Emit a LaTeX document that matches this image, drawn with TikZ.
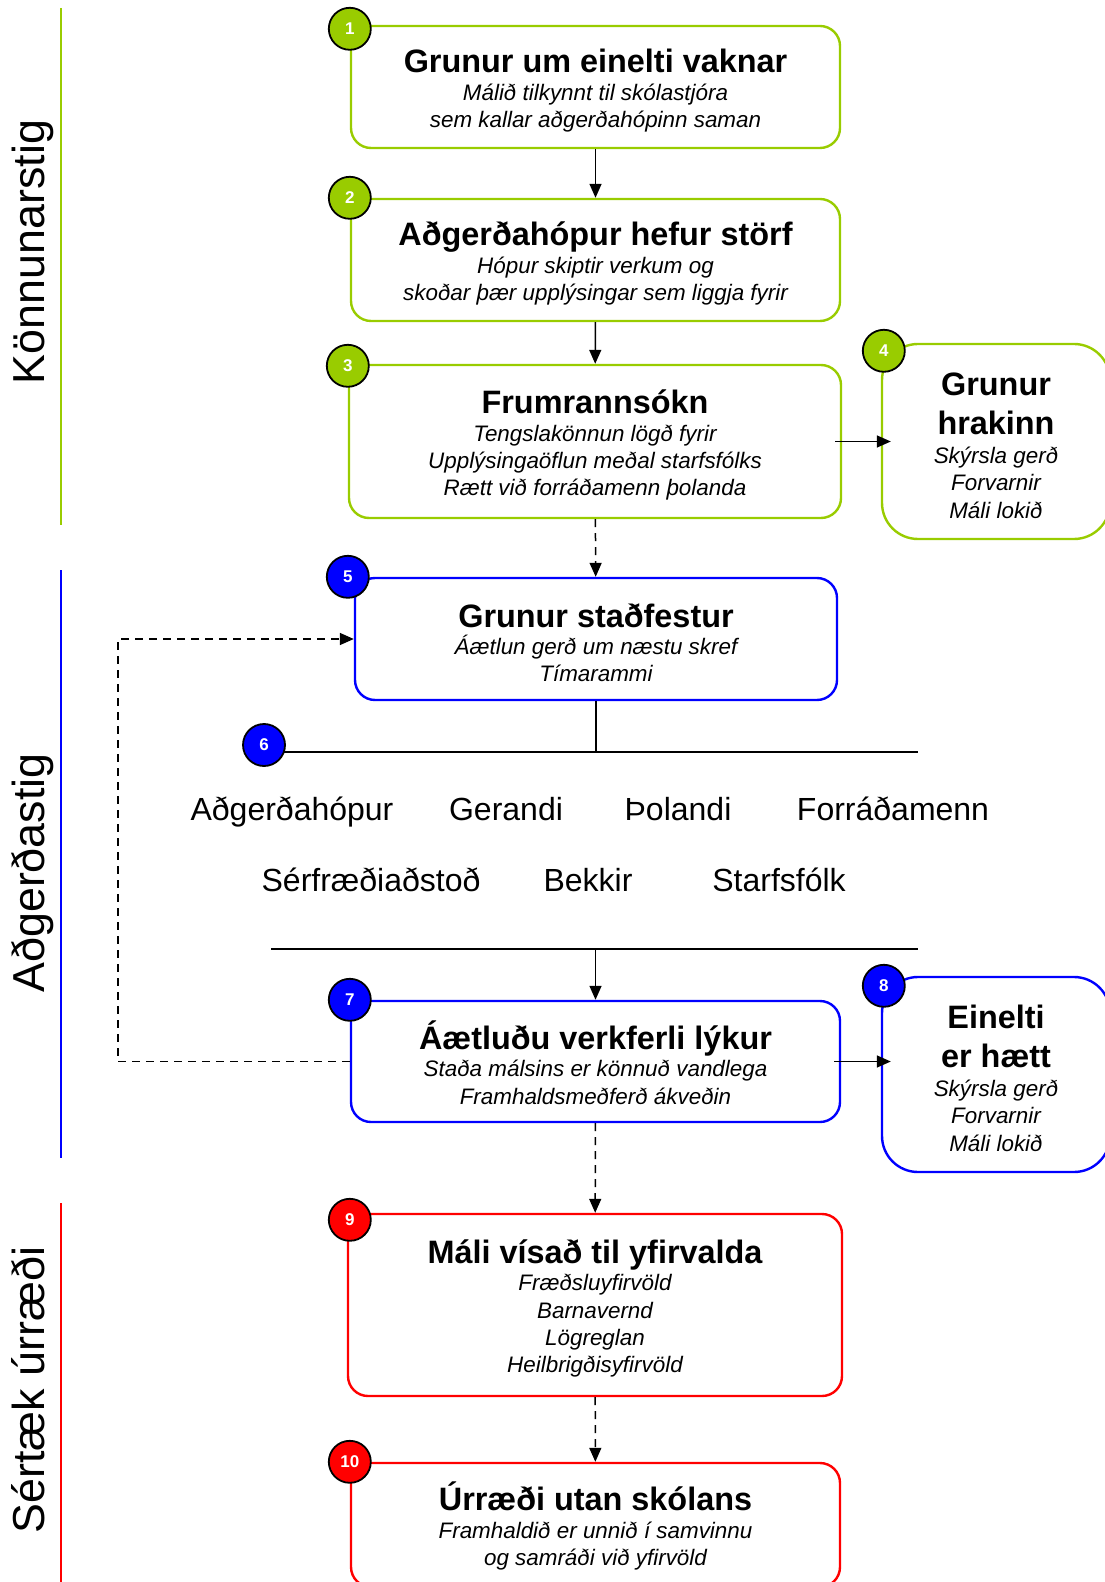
\documentclass[tikz,border=0pt]{standalone}
\usepackage{fontspec}
\setmainfont{Liberation Sans}
\usetikzlibrary{arrows.meta}
\definecolor{kgreen}{HTML}{99CC00}
\definecolor{kblue}{HTML}{0000FF}
\definecolor{kred}{HTML}{FF0000}
\newcommand\bodyfont{\fontsize{11.2}{13.6}\selectfont\itshape}
\newcommand\badgefont{\fontsize{8.5}{10}\selectfont\bfseries}
\newcommand\partyfont{\fontsize{16}{19}\selectfont}
\newcommand\phasefont{\fontsize{22.4}{26}\selectfont}
\newcommand\steptitle[1]{{\fontsize{16.2}{19}\selectfont\upshape\bfseries\rule{0pt}{15.5pt}#1}}
\begin{document}
\begin{tikzpicture}[x=0.5pt,y=-0.5pt,
  stepbox/.style={draw=#1,rounded corners=10pt,line width=1.2pt,align=center,inner sep=0pt,font=\bodyfont},
  endbox/.style={stepbox=#1,rounded corners=18pt},
  badge/.style={circle,draw=black,fill=#1,line width=0.9pt,minimum size=21pt,inner sep=0pt,text=white,font=\badgefont},
  flow/.style={line width=0.75pt,-{Triangle[length=7pt,width=6pt]}},
  dflow/.style={flow,dash pattern=on 4pt off 3pt},
  hub/.style={line width=1pt},
  party/.style={anchor=base,font=\partyfont},
  phase/.style={rotate=90,anchor=base,font=\phasefont},
  phaseline/.style={line width=1.2pt,draw=#1}]
  \useasboundingbox (0,0) rectangle (1104,1582);

  % phases on the left
  \node[phase] (p1) at (44,252) {Könnunarstig};
  \node[phase] (p2) at (44,873) {Aðgerðastig};
  \node[phase] (p3) at (44,1390) {Sértæk úrræði};
  \draw[phaseline=kgreen] (61,8) -- (61,525);
  \draw[phaseline=kblue] (61,570) -- (61,1158);
  \draw[phaseline=kred] (61,1203) -- (61,1590);

  % steps
  \node[stepbox=kgreen,minimum width=244.5pt,minimum height=61pt] (s1) at (595.5,87)
    {\steptitle{Grunur um einelti vaknar}\\ Málið tilkynnt til skólastjóra\\ sem kallar aðgerðahópinn saman};
  \node[stepbox=kgreen,minimum width=244.5pt,minimum height=61pt] (s2) at (595.5,260)
    {\steptitle{Aðgerðahópur hefur störf}\\ Hópur skiptir verkum og\\ skoðar þær upplýsingar sem liggja fyrir};
  \node[stepbox=kgreen,minimum width=246pt,minimum height=76.5pt] (s3) at (595,441.5)
    {\steptitle{Frumrannsókn}\\ Tengslakönnun lögð fyrir\\ Upplýsingaöflun meðal starfsfólks\\ Rætt við forráðamenn þolanda};
  \node[endbox=kgreen,minimum width=114pt,minimum height=97.5pt] (s4) at (996,441.5)
    {\steptitle{Grunur}\\[2.7pt] \steptitle{hrakinn}\\[1pt] Skýrsla gerð\\ Forvarnir\\ Máli lokið};
  \node[stepbox=kblue,minimum width=241pt,minimum height=61pt] (s5) at (596,639)
    {\steptitle{Grunur staðfestur}\\ Áætlun gerð um næstu skref\\ Tímarammi};
  \node[stepbox=kblue,minimum width=244.5pt,minimum height=60.5pt] (s7) at (595.5,1061.5)
    {\steptitle{Áætluðu verkferli lýkur}\\ Staða málsins er könnuð vandlega\\ Framhaldsmeðferð ákveðin};
  \node[endbox=kblue,minimum width=114pt,minimum height=97.5pt] (s8) at (996,1074.5)
    {\steptitle{Einelti}\\[2.7pt] \steptitle{er hætt}\\[1pt] Skýrsla gerð\\ Forvarnir\\ Máli lokið};
  \node[stepbox=kred,minimum width=247pt,minimum height=91pt] (s9) at (595,1305)
    {\steptitle{Máli vísað til yfirvalda}\\ Fræðsluyfirvöld\\ Barnavernd\\ Lögreglan\\ Heilbrigðisyfirvöld};
  \node[stepbox=kred,minimum width=244.5pt,minimum height=62pt] (s10) at (595.5,1525)
    {\steptitle{Úrræði utan skólans}\\ Framhaldið er unnið í samvinnu\\ og samráði við yfirvöld};

  % parties
  \coordinate (hubL) at (264,752);
  \coordinate (hubR) at (918,752);
  \coordinate (lowL) at (271,949);
  \coordinate (lowR) at (918,949);
  \node[party] (a1) at (292,820) {Aðgerðahópur};
  \node[party] (a2) at (506,820) {Gerandi};
  \node[party] (a3) at (678,820) {Þolandi};
  \node[party] (a4) at (893,820) {Forráðamenn};
  \node[party] (b1) at (371,891) {Sérfræðiaðstoð};
  \node[party] (b2) at (588,891) {Bekkir};
  \node[party] (b3) at (779,891) {Starfsfólk};

  % connectors
  \draw[flow] (s1) -- (s2);
  \draw[flow] (s2) -- (s3);
  \draw[flow,shorten <=-3.5pt,shorten >=-5pt] (s3.east) -- (s4.west);
  \draw[dflow] (s3) -- (s5);
  \draw[line width=0.75pt] (s5.south) -- (s5.south |- hubR);
  \draw[hub] (hubL) -- (hubR);
  \draw[hub] (lowL) -- (lowR);
  \draw[flow] (s7.north |- lowR) -- (s7.north);
  \draw[flow,shorten <=-3.5pt,shorten >=-5pt] (s7.east) -- (s7.east -| s8.west);
  \draw[dflow] (s7.west) -- ++(-232,0) |- (s5.west);
  \draw[dflow] (s7) -- (s9);
  \draw[dflow] (s9) -- (s10);

  % numbers
  \node[badge=kgreen] (n1) at ([yshift=-2pt]s1.north west) {1};
  \node[badge=kgreen] (n2) at (s2.north west) {2};
  \node[badge=kgreen] (n3) at ([yshift=-1pt]s3.north west) {3};
  \node[badge=kgreen] (n4) at ([xshift=1.5pt,yshift=-4pt]s4.north west) {4};
  \node[badge=kblue] (n5) at ([xshift=-3pt]s5.north west) {5};
  \node[badge=kblue] (n6) at (264,745) {6};
  \node[badge=kblue] (n7) at (s7.north west) {7};
  \node[badge=kblue] (n8) at ([xshift=1.5pt,yshift=-5pt]s8.north west) {8};
  \node[badge=kred] (n9) at ([xshift=1.5pt,yshift=-3.5pt]s9.north west) {9};
  \node[badge=kred] (n10) at (s10.north west) {10};
\end{tikzpicture}
\end{document}
